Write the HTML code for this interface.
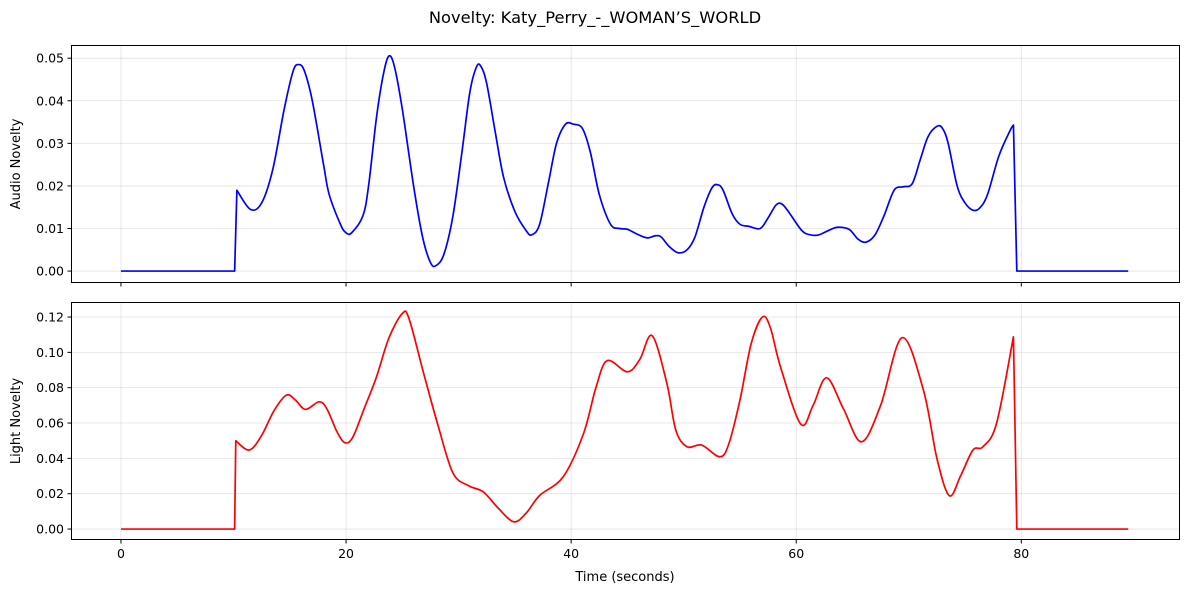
<!DOCTYPE html>
<html><head><meta charset="utf-8"><style>
body{margin:0;background:#fff;}
svg{display:block;font-family:"DejaVu Sans","Liberation Sans",sans-serif;}
</style></head><body>
<svg id="chart" width="1189" height="593" viewBox="0 0 1189 593">
<rect width="1189" height="593" fill="#fff"/>
<text x="595" y="23" text-anchor="middle" font-size="16.3">Novelty: Katy_Perry_-_WOMAN’S_WORLD</text>
<g id="top"></g><g id="bot"></g>
<text x="625" y="581" text-anchor="middle" font-size="13">Time (seconds)</text>
<text transform="translate(20,164) rotate(-90)" text-anchor="middle" font-size="13">Audio Novelty</text>
<text transform="translate(20,421) rotate(-90)" text-anchor="middle" font-size="13">Light Novelty</text>
</svg>
<script>
const xTicks=[0,20,40,60,80];
const audioTicks=[0,0.01,0.02,0.03,0.04,0.05];
const lightTicks=[0,0.02,0.04,0.06,0.08,0.10,0.12];
const jumpStart=10.1, dropEnd=79.6, tEnd=89.5;
const audioT=[10.3,11.5,12.5,13.5,14.5,15.3,15.8,16.3,17,18,18.5,19.5,20,20.5,21.5,22,22.7,23.3,23.8,24.3,25,26,26.8,27.5,28,28.7,29.5,30.3,31,31.6,32,32.5,33.3,34,35,36,36.5,37.2,38,38.7,39.5,40.2,41,41.7,42.5,43.5,44.3,45,46,46.8,47.5,48,48.7,49.5,50.3,51,51.8,52.5,53,53.5,54.3,55,55.8,56.8,57.5,58.2,58.7,59.3,60.5,61.3,62,63,63.7,64.7,65.5,66.2,67,67.8,68.7,69.5,70.3,71,71.7,72.5,73,73.5,74.3,75,75.7,76.3,77,78,79,79.3];
const audioV=[0.019,0.0145,0.016,0.024,0.038,0.047,0.0485,0.047,0.04,0.025,0.018,0.011,0.009,0.009,0.013,0.02,0.036,0.046,0.0505,0.048,0.038,0.02,0.008,0.002,0.0013,0.004,0.013,0.028,0.042,0.048,0.048,0.044,0.032,0.022,0.014,0.0095,0.0085,0.011,0.021,0.03,0.0345,0.0345,0.0335,0.028,0.018,0.011,0.010,0.0098,0.0085,0.0078,0.0083,0.008,0.0058,0.0043,0.005,0.008,0.015,0.0195,0.0203,0.019,0.0135,0.011,0.0105,0.010,0.0125,0.0155,0.0158,0.014,0.0095,0.0085,0.0085,0.0097,0.0103,0.0098,0.0075,0.0068,0.0085,0.013,0.019,0.0198,0.0205,0.026,0.0315,0.034,0.0335,0.030,0.020,0.016,0.0143,0.0148,0.018,0.027,0.033,0.0343];
const lightT=[10.2,11.4,12.5,13.6,14.7,15.5,16.4,17.6,18.3,19.2,19.9,20.6,21.6,22.7,23.8,25.0,25.6,26.9,28.2,29.5,30.9,32.2,33.5,34.9,36,37.2,39.3,41.1,42.2,43.2,45,46.1,47.2,48.5,49.3,50.3,51.6,53.2,54,55,56,57.0,57.7,58.6,60.4,61.5,62.7,64.2,65.8,67.5,69.4,71.3,72.5,73.6,74.6,75.7,76.6,77.8,79.3];
const lightV=[0.050,0.0447,0.053,0.067,0.0758,0.073,0.0677,0.072,0.068,0.055,0.0489,0.052,0.068,0.086,0.108,0.122,0.119,0.088,0.058,0.0317,0.0245,0.021,0.012,0.0041,0.009,0.019,0.0296,0.054,0.080,0.0953,0.089,0.096,0.1094,0.0826,0.056,0.0466,0.0475,0.0409,0.048,0.073,0.105,0.120,0.114,0.0918,0.0594,0.070,0.0856,0.068,0.0494,0.070,0.1083,0.0787,0.040,0.0189,0.030,0.0447,0.0466,0.0598,0.1088];
const NS='http://www.w3.org/2000/svg';
function mk(tag,attrs,parent){const e=document.createElementNS(NS,tag);for(const k in attrs)e.setAttribute(k,attrs[k]);parent.appendChild(e);return e;}
const X0=71,X1=1180,xMin=-4.44,xMax=94.1;
function xs(t){return X0+(t-xMin)/(xMax-xMin)*(X1-X0);}
function panel(g,top,bot,yMin,yMax,ticks,fmt,T,V,color,showX,name){
  const ys=v=>bot-(v-yMin)/(yMax-yMin)*(bot-top);
  ticks.forEach(v=>{
    const l=mk('line',{x1:X0,x2:X1,y1:ys(v),y2:ys(v),stroke:'#b0b0b0','stroke-opacity':0.35,'stroke-width':0.8},g);
    
    
    const tk=mk('line',{x1:X0-3.5,x2:X0,y1:ys(v),y2:ys(v),stroke:'#000','stroke-width':1},g);
    
    
    const tx=mk('text',{x:X0-7,y:ys(v)+4.5,'text-anchor':'end','font-size':12.5},g);
    
    
    tx.textContent=v.toFixed(fmt);
  });
  xTicks.forEach(t=>{
    const l=mk('line',{x1:xs(t),x2:xs(t),y1:top,y2:bot,stroke:'#b0b0b0','stroke-opacity':0.35,'stroke-width':0.8},g);
    
    
    const tk=mk('line',{x1:xs(t),x2:xs(t),y1:bot,y2:bot+3.5,stroke:'#000','stroke-width':1},g);
    
    
    if(showX){const tx=mk('text',{x:xs(t),y:bot+18,'text-anchor':'middle','font-size':12.5},g);
      
      
      tx.textContent=String(t);}
  });
  const P=T.map((t,i)=>[xs(t),ys(V[i])]);
  let d='M'+xs(0)+','+ys(0)+' L'+xs(jumpStart)+','+ys(0)+' L'+P[0][0]+','+P[0][1];
  for(let i=0;i<P.length-1;i++){
    const p0=P[Math.max(i-1,0)],p1=P[i],p2=P[i+1],p3=P[Math.min(i+2,P.length-1)];
    const c1=[p1[0]+(p2[0]-p0[0])/6,p1[1]+(p2[1]-p0[1])/6];
    const c2=[p2[0]-(p3[0]-p1[0])/6,p2[1]-(p3[1]-p1[1])/6];
    d+=' C'+c1[0].toFixed(2)+','+c1[1].toFixed(2)+' '+c2[0].toFixed(2)+','+c2[1].toFixed(2)+' '+p2[0].toFixed(2)+','+p2[1].toFixed(2);
  }
  d+=' L'+xs(dropEnd)+','+ys(0)+' L'+xs(tEnd)+','+ys(0);
  const path=mk('path',{d:d,fill:'none',stroke:color,'stroke-width':1.7,'stroke-linejoin':'round'},g);
  
  
  const fr=mk('rect',{x:X0+0.5,y:top+0.5,width:X1-X0-1,height:bot-top-1,fill:'none',stroke:'#000','stroke-width':1},g);
  
  
}
panel(document.getElementById('top'),45,283,-0.0028,0.0531,audioTicks,2,audioT,audioV,'#0000ff',false,'audio');
panel(document.getElementById('bot'),302,540,-0.0062,0.1285,lightTicks,2,lightT,lightV,'#ff0000',true,'light');
</script>
</body></html>
